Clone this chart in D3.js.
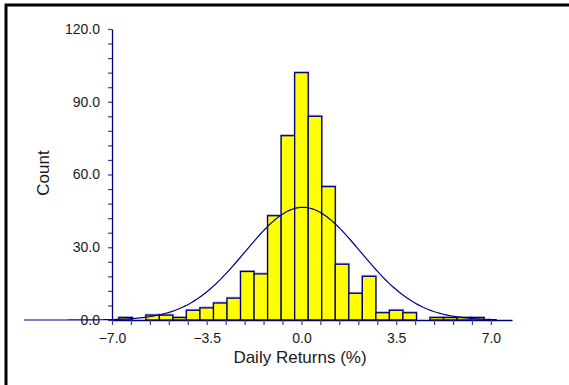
<!DOCTYPE html>
<html>
<head>
<meta charset="utf-8">
<script src="https://cdn.jsdelivr.net/npm/d3@7"></script>
<style>
  html, body { margin: 0; padding: 0; background: #fff; }
  svg { display: block; }
</style>
</head>
<body>
<svg id="chart" width="569" height="385"></svg>
<script>
// Histogram of daily returns: lower edge of each 0.5-wide bin and its count
const binLower = [-6.75, -6.25, -5.75, -5.25, -4.75, -4.25, -3.75, -3.25, -2.75,
                  -2.25, -1.75, -1.25, -0.75, -0.25, 0.25, 0.75, 1.25, 1.75,
                  2.25, 2.75, 3.25, 3.75, 4.25, 4.75, 5.25, 5.75, 6.25];
const binCounts = [1, 0, 2, 2, 1, 4, 5, 7, 9,
                   20, 19, 43, 76, 102, 84, 55, 23, 11,
                   18, 3, 4, 3, 0, 1, 1, 1, 1];
const binWidth = 0.5;

// Axis labels
const xTickLabels = [-7.0, -3.5, 0.0, 3.5, 7.0];
const yTickLabels = [0, 30, 60, 90, 120];
const xTitle = "Daily Returns (%)";
const yTitle = "Count";

// Fitted normal distribution overlay (mean, standard deviation, data span)
const fitMean = 0.05;
const fitSd = 2.13;
const fitSpan = [-10.25, 7.22];

const font = "'Liberation Sans', Arial, Helvetica, sans-serif";
const axisColor = "#000080";
const textColor = "#1a1a1a";

const svg = d3.select("#chart");

// Outer frame
svg.append("rect")
  .attr("x", 6).attr("y", 5)
  .attr("width", 600).attr("height", 420)
  .attr("fill", "#fff")
  .attr("stroke", "#000").attr("stroke-width", 3);

const x = d3.scaleLinear().domain([-7, 7.78]).range([112, 512]);
const y = d3.scaleLinear().domain([0, 120]).range([320, 29]);

// Bars: soft shadow first, then the yellow fill with navy outline
const bars = binLower.map((lo, i) => ({ lo, hi: lo + binWidth, n: binCounts[i] }))
  .filter(d => d.n > 0);

svg.append("g").selectAll("rect").data(bars).join("rect")
  .attr("x", d => x(d.lo) - 1)
  .attr("y", d => y(d.n) - 1.5)
  .attr("width", d => x(d.hi) - x(d.lo) + 2)
  .attr("height", d => y(0) - y(d.n) + 1.5)
  .attr("fill", "#6a6aa6")
  .attr("opacity", 0.55);

svg.append("g").selectAll("rect").data(bars).join("rect")
  .attr("x", d => x(d.lo))
  .attr("y", d => y(d.n))
  .attr("width", d => x(d.hi) - x(d.lo))
  .attr("height", d => y(0) - y(d.n))
  .attr("fill", "#ffff00")
  .attr("stroke", axisColor)
  .attr("stroke-width", 1.3);

// Y axis: minor ticks every 6, labels every 30
const yTicks = d3.range(0, 121, 6);
const yAxis = d3.axisLeft(y)
  .tickValues(yTicks)
  .tickSize(4)
  .tickSizeOuter(0)
  .tickPadding(8)
  .tickFormat(d => yTickLabels.includes(d) ? d3.format(".1f")(d) : "");
const gy = svg.append("g").attr("transform", "translate(112,0)").call(yAxis);

// X axis: minor ticks every 0.7, labels every 3.5
const xTicks = d3.range(0, 21).map(i => +(-7 + 0.7 * i).toFixed(2));
const xAxis = d3.axisBottom(x)
  .tickValues(xTicks)
  .tickSize(5)
  .tickSizeOuter(0)
  .tickPadding(8)
  .tickFormat(d => xTickLabels.some(v => Math.abs(v - d) < 1e-6) ? d3.format(".1f")(d) : "");
const gx = svg.append("g").attr("transform", "translate(0,320)").call(xAxis);

[gx, gy].forEach(g => {
  g.select(".domain").attr("stroke", axisColor).attr("stroke-width", 1.3);
  g.selectAll(".tick line").attr("stroke", "#3a3a98").attr("stroke-width", 1.2);
  g.selectAll(".tick text")
    .attr("fill", textColor)
    .style("font-family", font)
    .style("font-size", "14px");
});

// Axis titles
svg.append("text")
  .attr("x", 300).attr("y", 363)
  .attr("text-anchor", "middle")
  .attr("fill", textColor)
  .style("font-family", font)
  .style("font-size", "17px")
  .text(xTitle);

svg.append("text")
  .attr("transform", "translate(49,173) rotate(-90)")
  .attr("text-anchor", "middle")
  .attr("fill", textColor)
  .style("font-family", font)
  .style("font-size", "17px")
  .text(yTitle);

// Normal curve scaled to the histogram's total count and bin width
const total = d3.sum(binCounts);
const normal = v => total * binWidth / (fitSd * Math.sqrt(2 * Math.PI)) *
  Math.exp(-0.5 * ((v - fitMean) / fitSd) ** 2);
const curvePts = d3.range(0, 201).map(i => {
  const v = fitSpan[0] + (fitSpan[1] - fitSpan[0]) * i / 200;
  return [v, normal(v)];
});
svg.append("path")
  .datum(curvePts)
  .attr("fill", "none")
  .attr("stroke", "#00008b")
  .attr("stroke-width", 1.2)
  .attr("d", d3.line().x(d => x(d[0])).y(d => y(d[1])));
</script>
</body>
</html>
